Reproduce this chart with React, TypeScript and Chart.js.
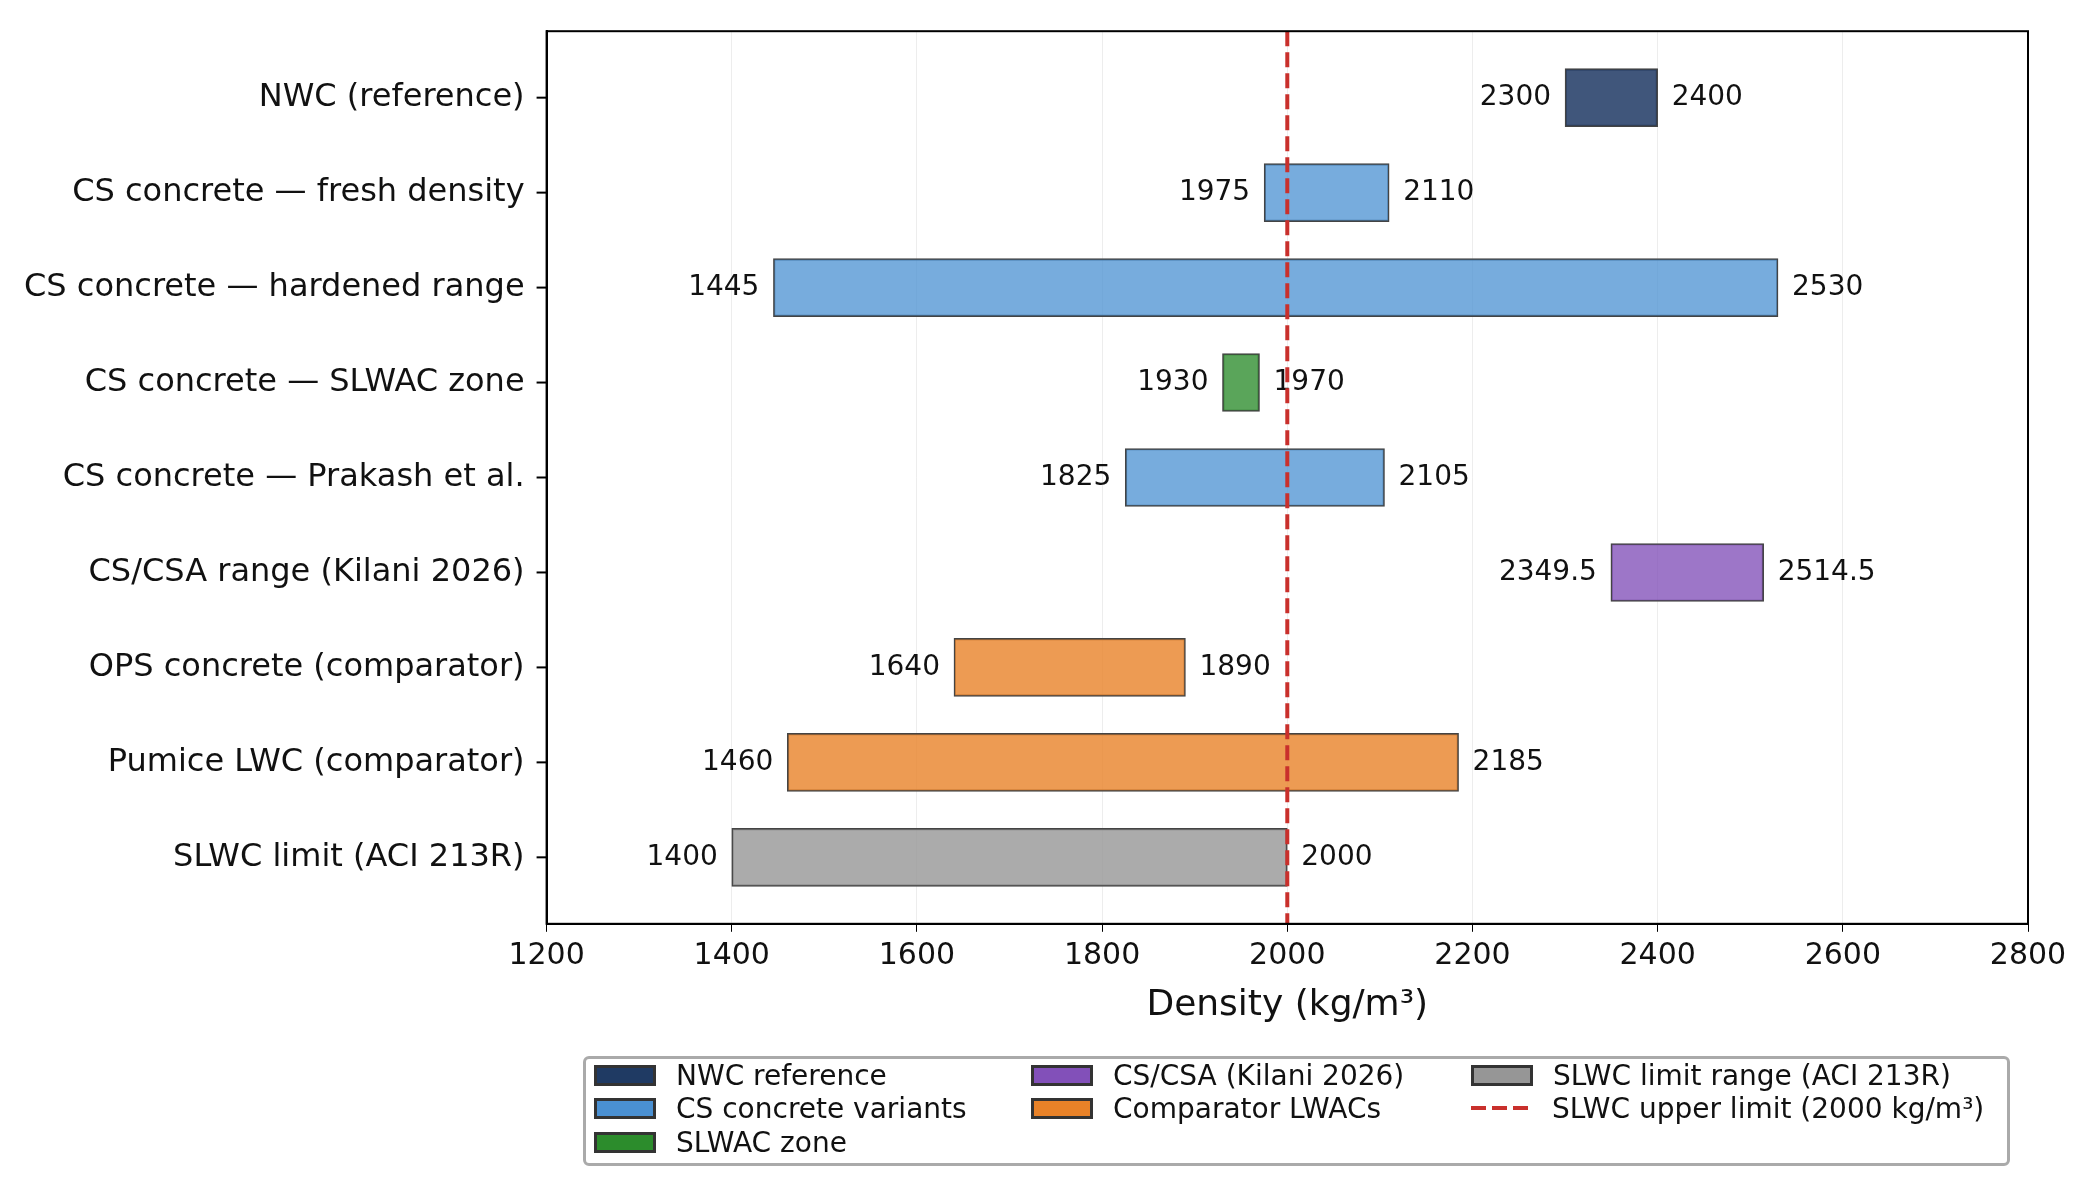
import React, { useEffect, useRef } from "react";
import { Chart, registerables } from "chart.js";
Chart.register(...registerables);

const categories = [
  "NWC (reference)",
  "CS concrete — fresh density",
  "CS concrete — hardened range",
  "CS concrete — SLWAC zone",
  "CS concrete — Prakash et al.",
  "CS/CSA range (Kilani 2026)",
  "OPS concrete (comparator)",
  "Pumice LWC (comparator)",
  "SLWC limit (ACI 213R)",
];
const lows = [2300, 1975, 1445, 1930, 1825, 2349.5, 1640, 1460, 1400];
const highs = [2400, 2110, 2530, 1970, 2105, 2514.5, 1890, 2185, 2000];
const groups = ["nwc", "cs", "cs", "slwac", "cs", "csa", "comp", "comp", "limit"];
const groupColors: Record<string, string> = {
  nwc: "rgba(31,56,100,0.85)",
  cs: "rgba(74,144,210,0.75)",
  slwac: "rgba(44,140,44,0.78)",
  csa: "rgba(130,80,185,0.78)",
  comp: "rgba(232,130,40,0.8)",
  limit: "rgba(150,150,150,0.8)",
};
const legendItems = [
  { label: "NWC reference", color: "#1f3a63" },
  { label: "CS concrete variants", color: "#4a90d2" },
  { label: "SLWAC zone", color: "#2c8c2c" },
  { label: "CS/CSA (Kilani 2026)", color: "#8250b9" },
  { label: "Comparator LWACs", color: "#e88228" },
  { label: "SLWC limit range (ACI 213R)", color: "#969696" },
  { label: "SLWC upper limit (2000 kg/m³)", color: "line" },
];
const limitValue = 2000;
const FONT = "'DejaVu Sans', sans-serif";

export default function App() {
  const ref = useRef<HTMLCanvasElement>(null);
  useEffect(() => {
    document.body.style.margin = "0";
    const overlay = {
      id: "overlay",
      afterDatasetsDraw(chart: any) {
        const { ctx, scales } = chart;
        const x = scales.x, y = scales.y;
        ctx.save();
        ctx.font = `28px ${FONT}`;
        ctx.fillStyle = "#111";
        ctx.textBaseline = "middle";
        categories.forEach((_, i) => {
          const py = y.getPixelForValue(i);
          ctx.textAlign = "right";
          ctx.fillText(String(lows[i]), x.getPixelForValue(lows[i]) - 14, py);
          ctx.textAlign = "left";
          ctx.fillText(String(highs[i]), x.getPixelForValue(highs[i]) + 14, py);
        });
        const lx = x.getPixelForValue(limitValue);
        ctx.strokeStyle = "#c9302c";
        ctx.lineWidth = 4;
        ctx.setLineDash([15, 6]);
        ctx.beginPath();
        ctx.moveTo(lx, chart.chartArea.top);
        ctx.lineTo(lx, chart.chartArea.bottom);
        ctx.stroke();
        ctx.restore();
      },
    };
    const chart = new Chart(ref.current!, {
      type: "bar",
      data: {
        datasets: [
          {
            data: categories.map((_, i) => ({ x: [lows[i], highs[i]], y: i })) as any,
            backgroundColor: groups.map((g) => groupColors[g]),
            borderColor: "#444",
            borderWidth: 1.5,
            borderSkipped: false,
            barThickness: 58,
          },
        ],
      },
      options: {
        indexAxis: "y",
        animation: false,
        responsive: false,
        layout: { padding: { left: 12, right: 50, top: 16, bottom: 148 } },
        plugins: { legend: { display: false }, tooltip: { enabled: false } },
        scales: {
          x: {
            type: "linear",
            min: 1200,
            max: 2800,
            ticks: { stepSize: 200, color: "#111", font: { family: FONT, size: 30 }, padding: 6, callback: (v: any) => String(v) },
            grid: { color: "rgba(0,0,0,0.07)", drawTicks: true, tickLength: 8, tickColor: "#000" },
            border: { color: "#000", width: 2 },
            title: { display: true, text: "Density (kg/m³)", color: "#111", font: { family: FONT, size: 36 }, padding: { top: 4 } },
          },
          y: {
            type: "linear",
            offset: false,
            min: -0.7,
            max: 8.7,
            reverse: true,
            afterBuildTicks: (s: any) => { s.ticks = categories.map((_, i) => ({ value: i })); },
            ticks: {
              color: "#111",
              font: { family: FONT, size: 32 },
              padding: 12,
              callback: (v: any) => categories[v] ?? "",
            },
            grid: { display: false, drawTicks: true, tickLength: 10, tickColor: "#000" },
            border: { color: "#000", width: 2 },
          },
        },
      },
      plugins: [
        overlay,
        {
          id: "frame",
          afterDraw(c: any) {
            const { ctx, chartArea: a, scales } = c;
            ctx.save();
            ctx.strokeStyle = "#000";
            ctx.lineWidth = 2;
            ctx.strokeRect(a.left, a.top, a.right - a.left, a.bottom - a.top);
            categories.forEach((_, i) => {
              const py = scales.y.getPixelForValue(i);
              ctx.beginPath();
              ctx.moveTo(a.left - 10, py);
              ctx.lineTo(a.left, py);
              ctx.stroke();
            });
            ctx.restore();
          },
        },
      ],
    });
    return () => chart.destroy();
  }, []);

  const cols = [594, 1031, 1471];
  const rows = [1075, 1108, 1142];
  const pos = [
    [0, 0], [0, 1], [0, 2], [1, 0], [1, 1], [2, 0], [2, 1],
  ];
  return (
    <div style={{ position: "fixed", left: 0, top: 0, width: 2078, height: 1179, background: "#fff", fontFamily: FONT }}>
      <canvas ref={ref} width={2078} height={1179} style={{ position: "absolute", left: 0, top: 0 }} />
      <div style={{ position: "absolute", left: 583, top: 1056, width: 1427, height: 110, border: "3px solid #aaa", borderRadius: 6, boxSizing: "border-box" }} />
      {legendItems.map((it, k) => {
        const [c, r] = pos[k];
        return (
          <div key={k} style={{ position: "absolute", left: cols[c], top: rows[r] - 16, height: 32, display: "flex", alignItems: "center", fontSize: 28, color: "#111", whiteSpace: "nowrap" }}>
            {it.color === "line" ? (
              <svg width={61} height={6} style={{ marginRight: 20 }}>
                <line x1={0} y1={3} x2={61} y2={3} stroke="#c9302c" strokeWidth={4} strokeDasharray="15 6" />
              </svg>
            ) : (
              <div style={{ width: 56, height: 15, background: it.color, border: "3px solid #333", marginRight: 20 }} />
            )}
            {it.label}
          </div>
        );
      })}
    </div>
  );
}
